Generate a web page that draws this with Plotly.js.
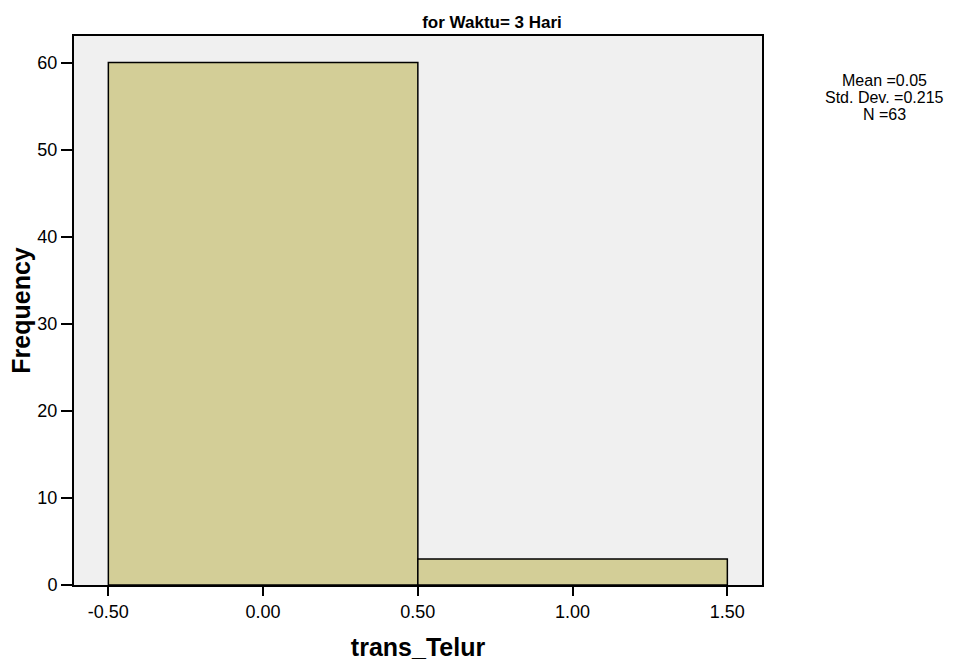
<!DOCTYPE html>
<html>
<head>
<meta charset="utf-8">
<script src="https://cdn.plot.ly/plotly-3.0.1.min.js"></script>
<style>html,body{margin:0;padding:0;background:#fff;}#chart{width:958px;height:663px;}</style>
</head>
<body>
<div id="chart"></div>
<script>
// Histogram bins and frequencies
var binStart = [-0.5, 0.5];
var binEnd = [0.5, 1.5];
var frequency = [60, 3];

// Axis ticks
var xTickVals = [-0.5, 0.0, 0.5, 1.0, 1.5];
var xTickText = ["-0.50", "0.00", "0.50", "1.00", "1.50"];
var yTickVals = [0, 10, 20, 30, 40, 50, 60];

// Summary statistics
var statsLines = ["Mean =0.05", "Std. Dev. =0.215", "N =63"];

var centers = binStart.map(function (s, i) { return (s + binEnd[i]) / 2; });
var widths = binStart.map(function (s, i) { return binEnd[i] - s; });

var font = "Arial, 'Liberation Sans', Helvetica, sans-serif";

var trace = {
  type: "bar",
  x: centers,
  y: frequency,
  width: widths,
  marker: { color: "#D3CE97", line: { color: "#000000", width: 1.5 } },
  hoverinfo: "x+y"
};

var statsAnn = statsLines.map(function (t, i) {
  return {
    text: t,
    xref: "paper", yref: "paper",
    x: (884 - 74) / (762 - 74), y: 1 - (81 + 17 * i - 36) / 549,
    xanchor: "center", yanchor: "middle",
    showarrow: false,
    font: { family: font, size: 16, color: "#000" }
  };
});

var layout = {
  width: 958,
  height: 663,
  margin: { l: 74, r: 196, t: 36, b: 78 },
  paper_bgcolor: "#ffffff",
  plot_bgcolor: "#F0F0F0",
  showlegend: false,
  bargap: 0,
  font: { family: font, color: "#000" },
  title: {
    text: "<b>for Waktu= 3 Hari</b>",
    font: { family: font, size: 17, color: "#000" },
    x: 492 / 958, xref: "container", xanchor: "center",
    y: 1 - 22 / 663, yref: "container", yanchor: "middle"
  },
  xaxis: {
    range: [-0.611, 1.612],
    tickvals: xTickVals,
    ticktext: xTickText,
    ticks: "outside",
    ticklen: 9,
    tickwidth: 2,
    tickcolor: "#000",
    tickfont: { family: font, size: 18, color: "#000" },
    showgrid: false,
    zeroline: false,
    showline: true,
    linecolor: "#000",
    linewidth: 2,
    mirror: true,
    title: { text: "<b>trans_Telur</b>", font: { family: font, size: 25, color: "#000" }, standoff: 18 }
  },
  yaxis: {
    range: [0, 63.05],
    tickvals: yTickVals,
    ticks: "outside",
    ticklen: 11,
    tickwidth: 2,
    tickcolor: "#000",
    tickfont: { family: font, size: 18, color: "#000" },
    showgrid: false,
    zeroline: false,
    showline: true,
    linecolor: "#000",
    linewidth: 2,
    mirror: true,
    title: { text: "<b>Frequency</b>", font: { family: font, size: 25, color: "#000" }, standoff: 0 }
  },
  annotations: statsAnn
};

Plotly.newPlot("chart", [trace], layout, { displayModeBar: false, staticPlot: true });
</script>
</body>
</html>
